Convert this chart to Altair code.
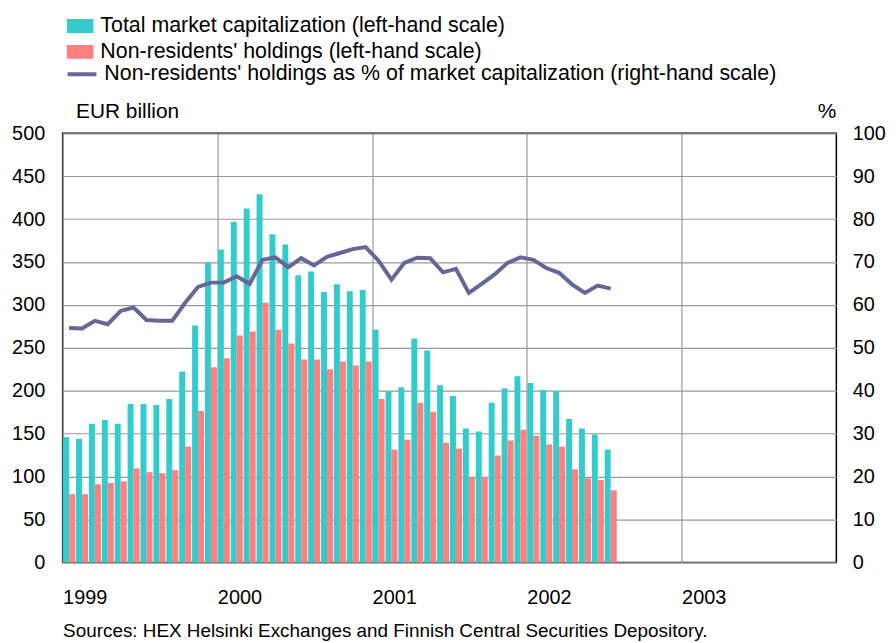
import altair as alt
import pandas as pd

months = [f"{y}-{m:02d}" for y in (1999, 2000, 2001) for m in range(1, 13)] + \
         [f"2002-{m:02d}" for m in range(1, 8)]

total_cap = [146, 144, 161.5, 166, 161.5, 184.5, 184.5, 183.5, 190.5, 222.5, 276, 349,
             364.5, 397, 412.5, 429, 382.5, 370.5, 334.5, 339, 315, 324, 316, 317.5,
             271, 199, 204, 261, 247, 206.5, 194, 156, 152.5, 186, 203, 217,
             209, 201, 199.5, 167, 156, 149, 131.5]

nonres = [79.5, 79.5, 91, 92.5, 94.5, 109.5, 105, 104, 107.5, 135, 176.5, 227.5,
          238, 264.5, 269, 302.5, 271, 255, 236.5, 236.5, 225, 234, 229.5, 234,
          190.5, 131.5, 143, 186, 175.5, 139.5, 132.5, 99, 99, 124.5, 142, 154.5,
          147.5, 137.5, 135, 108.5, 98, 96, 84]

share = [54.6, 54.5, 56.3, 55.5, 58.6, 59.4, 56.5, 56.3, 56.3, 60.5, 64.2, 65.2,
         65.2, 66.7, 64.9, 70.5, 71.1, 68.8, 70.9, 69.2, 71.2, 72.1, 73.0, 73.5,
         70.3, 65.9, 69.8, 71.0, 70.9, 67.6, 68.4, 62.8, 64.9, 67.1, 69.8, 71.1,
         70.5, 68.6, 67.5, 64.8, 62.8, 64.5, 63.8]

year_ticks = [0, 12, 24, 36, 48]

lab_total = "Total market capitalization (left-hand scale)"
lab_nonres = "Non-residents' holdings (left-hand scale)"
lab_share = "Non-residents' holdings as % of market capitalization (right-hand scale)"

idx = [(int(m[:4]) - 1999) * 12 + int(m[5:]) - 1 for m in months]
df = pd.DataFrame({"month": months, "idx": idx, "total": total_cap,
                   "nonres": nonres, "share": share,
                   "s_total": lab_total, "s_nonres": lab_nonres, "s_share": lab_share})

FONT = "Liberation Sans"
xscale = alt.Scale(domain=[0, 60], nice=False, zero=False, padding=0)
xaxis = alt.Axis(values=year_ticks, labelExpr="1999 + datum.value / 12",
                 labelAlign="left", labelFontSize=20, labelPadding=25,
                 ticks=False, domain=False, grid=True, gridColor="#999999",
                 gridWidth=1.2, title="Sources: HEX Helsinki Exchanges and Finnish Central Securities Depository.",
                 titleFontSize=19, titleFontWeight="normal", titleX=0, titleY=75,
                 titleAlign="left", titleBaseline="alphabetic")
yscale = alt.Scale(domain=[0, 500], nice=False, padding=0)
yaxis = alt.Axis(values=list(range(0, 501, 50)), labelFontSize=20, labelPadding=18,
                 ticks=False, domain=False, grid=True, gridColor="#999999", gridWidth=1.2,
                 title="EUR billion", titleAngle=0, titleAlign="left", titleX=13, titleY=-22,
                 titleBaseline="middle", titleFontSize=21, titleFontWeight="normal")
y2axis = alt.Axis(orient="right", values=list(range(0, 101, 10)), labelFontSize=20,
                  labelPadding=16, ticks=False, domain=False, grid=False,
                  title="%", titleAngle=0, titleAlign="center", titleX=-10, titleY=-22,
                  titleBaseline="middle", titleFontSize=21, titleFontWeight="normal")

cscale = alt.Scale(domain=[lab_total, lab_nonres], range=["#33CCCC", "#FF8080"])
leg1 = alt.Legend(orient="none", legendX=4, legendY=-121, title=None, labelFontSize=21.5,
                  labelFont=FONT, symbolType="M-1,-0.52H1V0.52H-1Z", symbolSize=729,
                  symbolStrokeWidth=0, labelOffset=7, rowPadding=0, clipHeight=26,
                  padding=0, labelLimit=1000, symbolOpacity=1)
sscale = alt.Scale(domain=[lab_share], range=["#666699"])
leg2 = alt.Legend(orient="none", legendX=3, legendY=-72.5, title=None, labelFontSize=21.5,
                  labelFont=FONT, symbolType="stroke", symbolSize=841, symbolStrokeWidth=4,
                  labelOffset=6, rowPadding=0, clipHeight=26, padding=0, labelLimit=1000)

base = alt.Chart(df)
teal = base.transform_calculate(x0="datum.idx + 0.04", x1="datum.idx + 0.5").mark_bar().encode(
    x=alt.X("x0:Q", scale=xscale, axis=xaxis),
    x2="x1:Q",
    y=alt.Y("total:Q", scale=yscale, axis=yaxis),
    y2=alt.datum(0),
    color=alt.Color("s_total:N", scale=cscale, legend=leg1),
)
pink = base.transform_calculate(x0="datum.idx + 0.5", x1="datum.idx + 0.97").mark_bar().encode(
    x=alt.X("x0:Q", scale=xscale),
    x2="x1:Q",
    y=alt.Y("nonres:Q", scale=yscale),
    y2=alt.datum(0),
    color=alt.Color("s_nonres:N", scale=cscale, legend=leg1),
)
line = base.transform_calculate(xm="datum.idx + 0.5").mark_line(strokeWidth=4).encode(
    x=alt.X("xm:Q", scale=xscale),
    y=alt.Y("share:Q", scale=alt.Scale(domain=[0, 100], nice=False), axis=y2axis),
    stroke=alt.Stroke("s_share:N", scale=sscale, legend=leg2),
)

chart = alt.layer(alt.layer(teal, pink), line).resolve_scale(y="independent").properties(
    width=779, height=432,
    autosize=alt.AutoSizeParams(type="none"),
    padding={"left": 55, "top": 124, "right": 52, "bottom": 79},
).configure(font=FONT).configure_view(stroke="black", strokeWidth=1.5).configure_axis(
    labelColor="black", titleColor="black", labelFont=FONT, titleFont=FONT
).configure_legend(labelColor="black")

chart.save("out.html", embed_options={"renderer": "svg", "actions": False})
